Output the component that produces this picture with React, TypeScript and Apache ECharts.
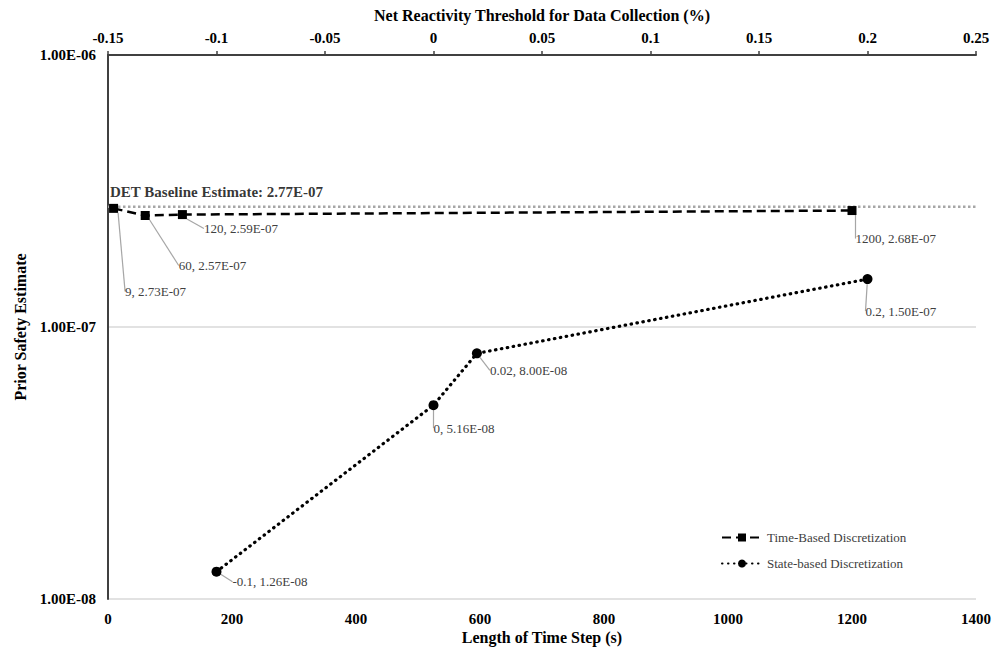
import React, { useEffect, useRef } from "react";
import * as echarts from "echarts";

const timeSteps = [9, 60, 120, 1200];
const timeValues = [2.73e-7, 2.57e-7, 2.59e-7, 2.68e-7];
const thresholds = [-0.1, 0, 0.02, 0.2];
const stateValues = [1.26e-8, 5.16e-8, 8.0e-8, 1.5e-7];
const baselineValue = 2.77e-7;
const baselineX = [0, 1400];
const timeTicks = { min: 0, max: 1400, interval: 200 };
const thresholdTicks = { min: -0.15, max: 0.25, interval: 0.05 };
const yRange = { min: 1e-8, max: 1e-6 };

// label offsets (styling only)
const timeLabelOffsets = [[2, 83], [24, 50], [12, 14], [-6, 28]];
const stateLabelOffsets = [[6, 10], [-10, 23], [3, 17], [-12, 32]];

const FONT = "'Liberation Serif', 'Times New Roman', serif";

function sci(v: number): string {
  const s = v.toExponential(2).toUpperCase();
  const [m, e] = s.split("E");
  const neg = e.startsWith("-");
  const digits = e.replace(/[-+]/, "").padStart(2, "0");
  return `${m}E${neg ? "-" : ""}${digits}`;
}

export default function App() {
  const ref = useRef<HTMLDivElement>(null);
  useEffect(() => {
    if (!ref.current) return;
    const chart = echarts.init(ref.current, undefined, { renderer: "svg" });
    const labelStyle = {
      show: true,
      position: "right" as const,
      fontFamily: FONT,
      fontSize: 13,
      color: "#404040",
    };
    const axisLabelStyle = { fontFamily: FONT, fontSize: 15, fontWeight: "bold", color: "#000" };
    const nameStyle = { fontFamily: FONT, fontSize: 16, fontWeight: "bold", color: "#000" };
    chart.setOption({
      animation: false,
      backgroundColor: "#ffffff",
      grid: { left: 108, right: 17, top: 55, bottom: 51, containLabel: false, outerBoundsMode: "none" },
      legend: {
        orient: "vertical",
        left: 716,
        top: 526,
        itemWidth: 40,
        itemHeight: 10,
        itemGap: 13,
        textStyle: { fontFamily: FONT, fontSize: 13, color: "#404040" },
        data: ["Time-Based Discretization", "State-based Discretization"],
      },
      xAxis: [
        {
          type: "value",
          position: "bottom",
          min: timeTicks.min,
          max: timeTicks.max,
          interval: timeTicks.interval,
          name: "Length of Time Step (s)",
          nameLocation: "middle",
          nameGap: 30,
          nameMoveOverlap: false,
          nameTextStyle: nameStyle,
          axisLine: { show: false },
          axisTick: { show: false },
          splitLine: { show: false },
          axisLabel: { ...axisLabelStyle, margin: 12, formatter: (v: number) => String(v) },
        },
        {
          type: "value",
          position: "top",
          min: thresholdTicks.min,
          max: thresholdTicks.max,
          interval: thresholdTicks.interval,
          name: "Net Reactivity Threshold for Data Collection (%)",
          nameLocation: "middle",
          nameGap: 32,
          nameMoveOverlap: false,
          nameTextStyle: nameStyle,
          axisLine: { show: true, lineStyle: { color: "#404040", width: 2 } },
          axisTick: { show: true, length: 4, lineStyle: { color: "#404040", width: 1.5 } },
          splitLine: { show: false },
          axisLabel: {
            ...axisLabelStyle,
            margin: 10,
            formatter: (v: number) => String(Math.round(v * 100) / 100),
          },
        },
      ],
      yAxis: {
        type: "log",
        logBase: 10,
        min: yRange.min,
        max: yRange.max,
        name: "Prior Safety Estimate",
        nameLocation: "middle",
        nameGap: 80,
        nameMoveOverlap: false,
        nameTextStyle: nameStyle,
        axisLine: { show: true, lineStyle: { color: "#404040", width: 2 } },
        axisTick: { show: false },
        splitLine: { show: true, lineStyle: { color: "#d9d9d9", width: 1.5 } },
        axisLabel: { ...axisLabelStyle, margin: 12, formatter: (v: number) => sci(v) },
      },
      series: [
        {
          name: "DET Baseline",
          type: "line",
          xAxisIndex: 0,
          data: baselineX.map((x) => [x, baselineValue]),
          symbol: "none",
          silent: true,
          lineStyle: { color: "#a6a6a6", width: 2.5, type: [2.5, 2.5] },
          label: { show: false },
          z: 2,
        },
        {
          name: "Time-Based Discretization",
          type: "line",
          xAxisIndex: 0,
          data: timeSteps.map((x, i) => [x, timeValues[i]]),
          symbol: "rect",
          symbolSize: 9,
          itemStyle: { color: "#000" },
          lineStyle: { color: "#000", width: 2.5, type: [9, 5] },
          label: {
            ...labelStyle,
            formatter: (p: any) => `${p.value[0]}, ${sci(p.value[1])}`,
          },
          labelLayout: (p: any) => {
            const o = timeLabelOffsets[p.dataIndex];
            return { dx: o[0], dy: o[1] };
          },
          labelLine: { show: true, lineStyle: { color: "#a6a6a6", width: 1.2 } },
          z: 3,
        },
        {
          name: "State-based Discretization",
          type: "line",
          xAxisIndex: 1,
          data: thresholds.map((x, i) => [x, stateValues[i]]),
          symbol: "circle",
          symbolSize: 10,
          itemStyle: { color: "#000" },
          lineStyle: { color: "#000", width: 3.2, type: [0.5, 5.5], cap: "round" },
          label: {
            ...labelStyle,
            formatter: (p: any) => `${p.value[0]}, ${sci(p.value[1])}`,
          },
          labelLayout: (p: any) => {
            const o = stateLabelOffsets[p.dataIndex];
            return { dx: o[0], dy: o[1] };
          },
          labelLine: { show: true, lineStyle: { color: "#a6a6a6", width: 1.2 } },
          z: 3,
        },
        {
          name: "baselineLabel",
          type: "scatter",
          xAxisIndex: 0,
          data: [[baselineX[0], baselineValue]],
          symbolSize: 0,
          silent: true,
          label: {
            show: true,
            position: "top",
            align: "left",
            offset: [2, -2],
            formatter: `DET Baseline Estimate: ${sci(baselineValue)}`,
            fontFamily: FONT,
            fontSize: 15,
            fontWeight: "bold",
            color: "#000",
          },
          z: 4,
        },
      ],
    });
    return () => chart.dispose();
  }, []);
  return <div ref={ref} style={{ width: 993, height: 650, position: "absolute", left: 0, top: 0 }} />;
}
